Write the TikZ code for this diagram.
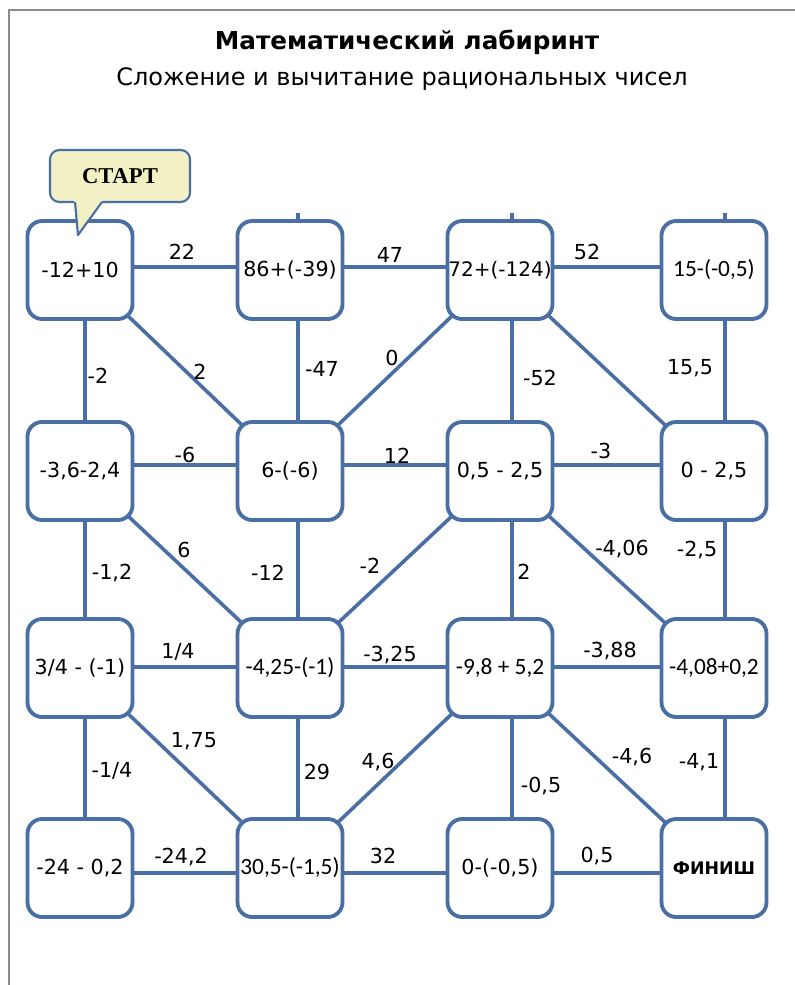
\documentclass[tikz,border=0pt]{standalone}
\usepackage{fontspec}
\setmainfont{DejaVu Sans}
\newfontfamily\calib{Carlito}
\newfontfamily\timesf{Liberation Serif}
\usetikzlibrary{backgrounds}
\definecolor{mazeblue}{RGB}{74,111,165}
\definecolor{callfill}{RGB}{242,240,196}
\definecolor{pageline}{RGB}{140,140,140}
\begin{document}
\begin{tikzpicture}[x=0.75pt,y=-0.75pt,
  cell/.style={draw=mazeblue, line width=2.9pt, fill=white, rounded corners=11pt,
    minimum width=78.75pt, minimum height=73.5pt, inner sep=0pt,
    font=\fontsize{15.5}{17}\selectfont},
  cal/.style={font=\calib\fontsize{17.5}{19}\selectfont},
  link/.style={draw=mazeblue, line width=2.7pt},
  lbl/.style={inner sep=0pt, font=\fontsize{15.5}{17}\selectfont},
  ttl/.style={inner sep=0pt, font=\bfseries\fontsize{18.5}{20}\selectfont},
  subttl/.style={inner sep=0pt, font=\fontsize{18}{20}\selectfont},
  callout/.style={draw=mazeblue, line width=1.6pt, fill=callfill, rounded corners=7pt,
    minimum width=105pt, minimum height=39pt, inner sep=0pt,
    font=\timesf\bfseries\fontsize{17}{19}\selectfont},
]
\useasboundingbox (0,0) rectangle (795,985);
\draw[pageline, line width=1.4pt] (9,985) -- (9,10) -- (795,10);

\node[ttl] (title) at (407,42) {Математический лабиринт};
\node[subttl] (subtitle) at (402,79) {Сложение и вычитание рациональных чисел};

% cells
\node[cell] (A1) at (80,270) {-12+10};
\node[cell] (A2) at (290,270) {86+(-39)};
\node[cell, font=\fontsize{15}{17}\selectfont] (A3) at (500,270) {72+(-124)};
\node[cell, cal] (A4) at (714,270) {15-(-0,5)};
\node[cell] (B1) at (80,471) {-3,6-2,4};
\node[cell] (B2) at (290,471) {6-(-6)};
\node[cell] (B3) at (500,471) {0,5 - 2,5};
\node[cell] (B4) at (714,471) {0 - 2,5};
\node[cell] (C1) at (80,668) {3/4 - (-1)};
\node[cell, cal] (C2) at (290,668) {-4,25-(-1)};
\node[cell, cal] (C3) at (500,668) {-9,8 + 5,2};
\node[cell, cal] (C4) at (714,668) {-4,08+0,2};
\node[cell] (D1) at (80,868) {-24 - 0,2};
\node[cell, cal] (D2) at (290,868) {30,5-(-1,5)};
\node[cell] (D3) at (500,868) {0-(-0,5)};
\node[cell, font=\bfseries\fontsize{13}{15}\selectfont] (D4) at (714,868) {ФИНИШ};

\begin{scope}[on background layer]
  \fill[white] (0,0) rectangle (795,985);
  % horizontal (rows slightly off the box centres, as in the original)
  \foreach \r/\s in {A/2.25pt, B/4.5pt, C/0.75pt, D/-3.75pt}{
    \draw[link] ([yshift=\s]\r1.center) -- ([yshift=\s]\r2.center)
      -- ([yshift=\s]\r3.center) -- ([yshift=\s]\r4.center);
  }
  % vertical
  \foreach \c/\s in {1/3.75pt, 2/6pt, 3/9pt, 4/8.25pt}{
    \draw[link] ([xshift=\s]A\c.center) -- ([xshift=\s]B\c.center)
      -- ([xshift=\s]C\c.center) -- ([xshift=\s]D\c.center);
  }
  % diagonals
  \draw[link] (A1.center) -- (B2.center) -- (A3.center) -- (B4.center);
  \draw[link] (B1.center) -- (C2.center) -- (B3.center) -- (C4.center);
  \draw[link] (C1.center) -- (D2.center) -- (C3.center) -- (D4.center);
\end{scope}

% small stubs above top row
\draw[link] ([xshift=6pt]A2.north) -- ++(0,-6);
\draw[link] ([xshift=9pt]A3.north) -- ++(0,-6);
\draw[link] ([xshift=8.25pt]A4.north) -- ++(0,-6);

% labels
\node[lbl] (l1) at (182,252) {22};
\node[lbl] (l2) at (390,255) {47};
\node[lbl] (l3) at (587,252) {52};
\node[lbl] (l4) at (98,376) {-2};
\node[lbl] (l5) at (200,372) {2};
\node[lbl] (l6) at (322,369) {-47};
\node[lbl] (l7) at (392,358) {0};
\node[lbl] (l8) at (540,378) {-52};
\node[lbl] (l9) at (690,368) {15,5};
\node[lbl] (l10) at (185,455) {-6};
\node[lbl] (l11) at (397,456) {12};
\node[lbl] (l12) at (601,451) {-3};
\node[lbl] (l13) at (112,573) {-1,2};
\node[lbl] (l14) at (184,550) {6};
\node[lbl] (l15) at (268,573) {-12};
\node[lbl] (l16) at (370,566) {-2};
\node[lbl] (l17) at (524,572) {2};
\node[lbl] (l18) at (622,549) {-4,06};
\node[lbl] (l19) at (697,550) {-2,5};
\node[lbl] (l20) at (178,652) {1/4};
\node[lbl] (l21) at (390,655) {-3,25};
\node[lbl] (l22) at (610,651) {-3,88};
\node[lbl] (l23) at (112,771) {-1/4};
\node[lbl] (l24) at (194,741) {1,75};
\node[lbl] (l25) at (317,772) {29};
\node[lbl] (l26) at (378,762) {4,6};
\node[lbl] (l27) at (541,786) {-0,5};
\node[lbl] (l28) at (632,757) {-4,6};
\node[lbl] (l29) at (699,762) {-4,1};
\node[lbl] (l30) at (181,857) {-24,2};
\node[lbl] (l31) at (383,856) {32};
\node[lbl] (l32) at (597,856) {0,5};

% start callout
\node[callout] (start) at (120,176) {СТАРТ};
\coordinate (tip) at (78,235);
\fill[callfill] (74,200) -- (tip) -- (103,200) -- cycle;
\draw[mazeblue, line width=1.6pt, line join=round] (75,202) -- (tip) -- (102,202);
\end{tikzpicture}
\end{document}
